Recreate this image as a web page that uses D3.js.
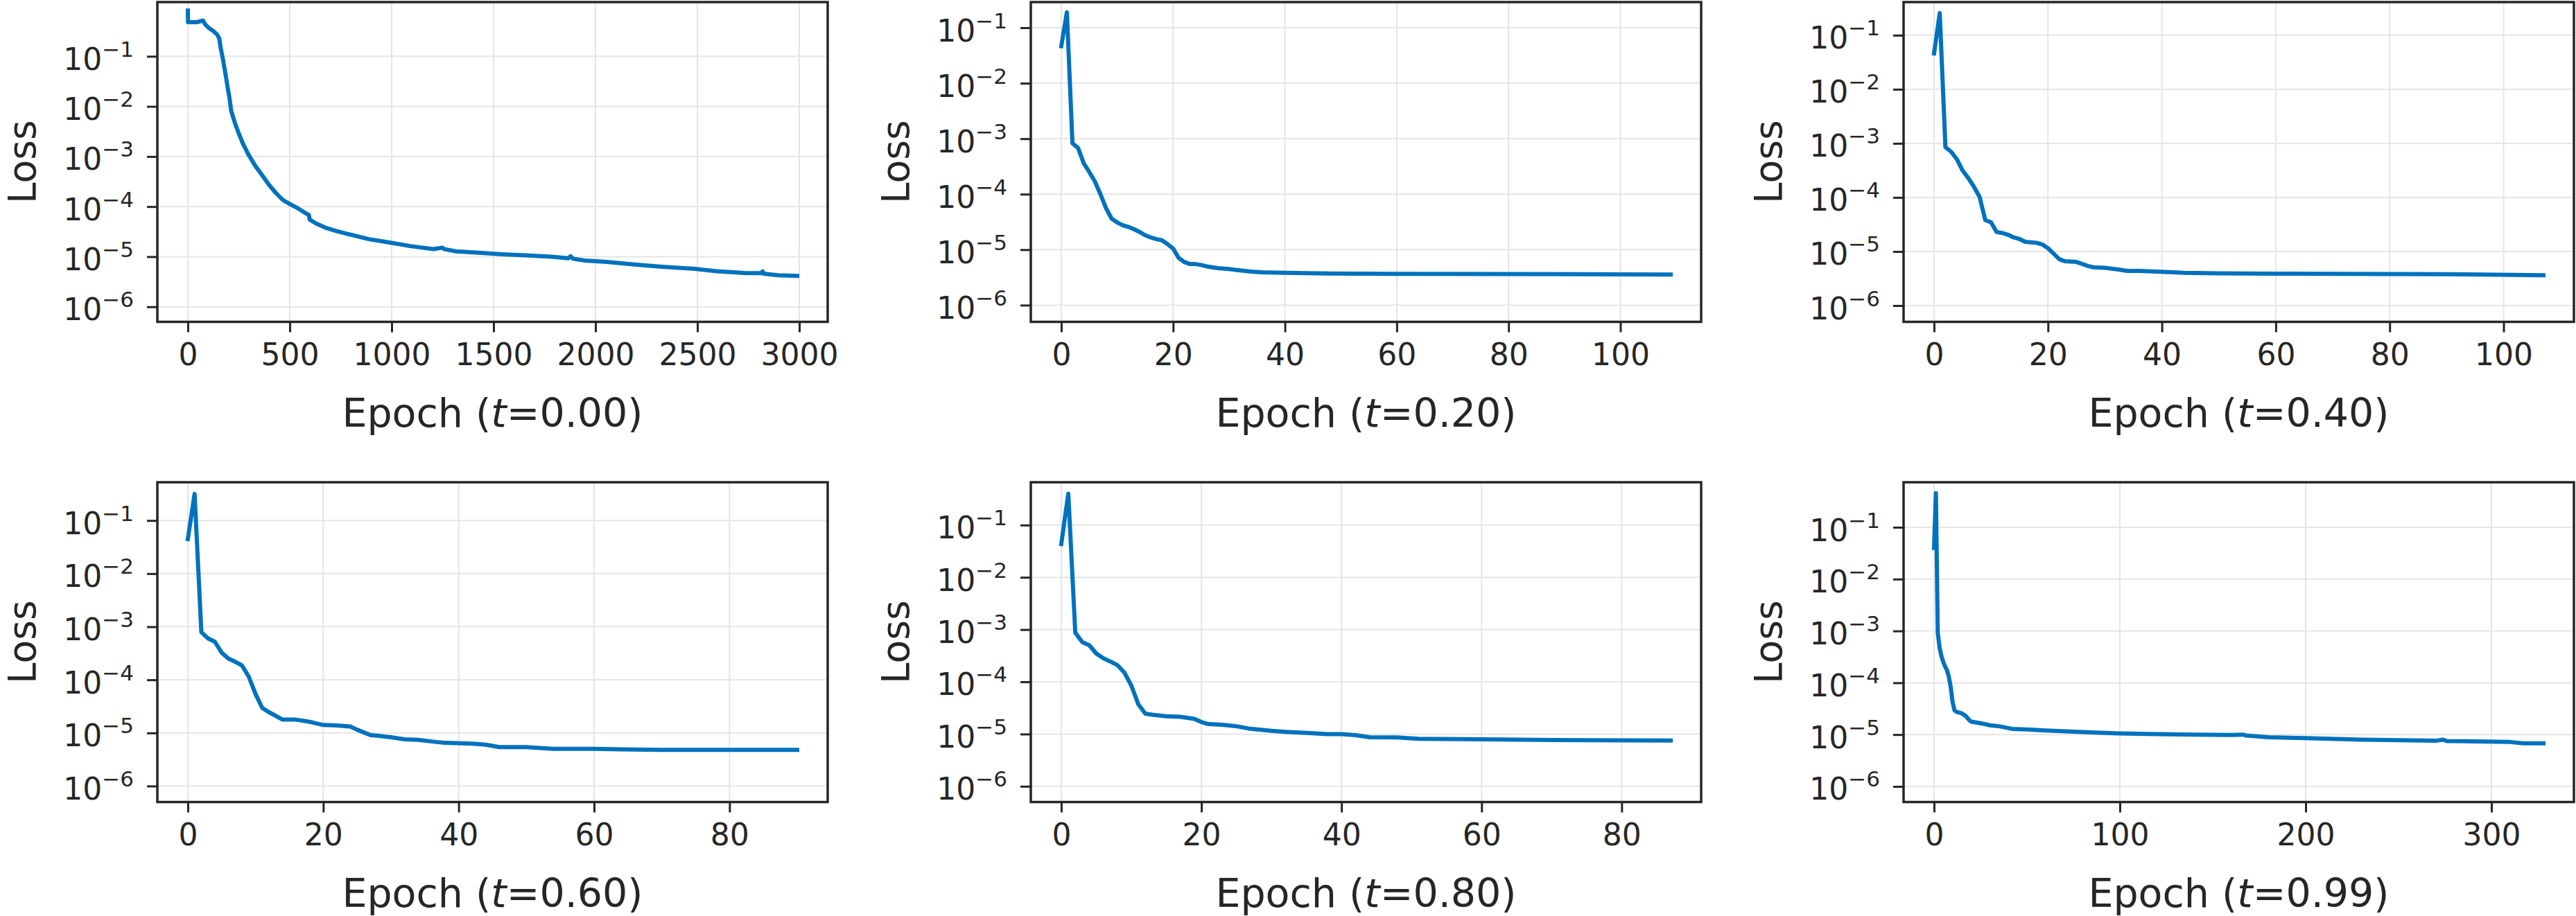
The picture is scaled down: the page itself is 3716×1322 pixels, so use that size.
<!DOCTYPE html>
<html>
<head>
<meta charset="utf-8">
<script src="https://cdn.jsdelivr.net/npm/d3@7/dist/d3.min.js"></script>
<style>
  body { margin: 0; background: #fff; }
  svg text { font-family: "DejaVu Sans", sans-serif; fill: #262626; }
</style>
</head>
<body>
<svg id="chart" width="3716" height="1322"></svg>
<script>
// values, one pair of arrays per panel
const tLabels = ["0.00", "0.20", "0.40", "0.60", "0.80", "0.99"];

const epochsT000 = [0, 1, 44, 61, 74, 86, 102, 123, 143, 154, 162, 173, 185, 196, 204, 213, 230, 247, 269, 297, 331, 365, 399, 432, 466, 500, 539, 573, 594, 598, 629, 675, 731, 787, 843, 888, 979, 1091, 1204, 1249, 1260, 1316, 1429, 1541, 1786, 1867, 1878, 1890, 1948, 2056, 2191, 2327, 2489, 2597, 2733, 2814, 2820, 2826, 2895, 2990];
const lossT000 = [0.82, 0.48, 0.48, 0.50, 0.52, 0.43, 0.37, 0.325, 0.274, 0.229, 0.142, 8.4e-2, 4.4e-2, 2.3e-2, 1.5e-2, 8.1e-3, 4.8e-3, 3.1e-3, 1.86e-3, 1.1e-3, 6.5e-4, 4.2e-4, 2.7e-4, 1.87e-4, 1.36e-4, 1.13e-4, 9.3e-5, 7.6e-5, 6.8e-5, 5.5e-5, 4.6e-5, 3.8e-5, 3.24e-5, 2.83e-5, 2.49e-5, 2.24e-5, 1.95e-5, 1.63e-5, 1.42e-5, 1.51e-5, 1.41e-5, 1.28e-5, 1.2e-5, 1.12e-5, 1.0e-5, 9.3e-6, 1.02e-5, 9.1e-6, 8.4e-6, 7.85e-6, 6.97e-6, 6.3e-6, 5.7e-6, 5.1e-6, 4.72e-6, 4.68e-6, 5.1e-6, 4.57e-6, 4.25e-6, 4.13e-6];

const epochsT020 = [0, 1, 2, 3, 4, 5, 6, 7, 8, 9, 10, 11, 12, 13, 14, 15, 16, 17, 18, 19, 20, 21, 22, 23, 24, 25, 26, 28, 30, 32, 34, 36, 40, 48, 60, 80, 100, 109];
const lossT020 = [0.0465, 0.19, 8.26e-4, 6.8e-4, 3.63e-4, 2.51e-4, 1.7e-4, 1.0e-4, 5.6e-5, 3.63e-5, 3.09e-5, 2.75e-5, 2.57e-5, 2.34e-5, 2.09e-5, 1.82e-5, 1.66e-5, 1.55e-5, 1.48e-5, 1.26e-5, 1.05e-5, 7.1e-6, 6.0e-6, 5.5e-6, 5.5e-6, 5.3e-6, 5.0e-6, 4.65e-6, 4.47e-6, 4.22e-6, 4.02e-6, 3.9e-6, 3.83e-6, 3.72e-6, 3.67e-6, 3.63e-6, 3.59e-6, 3.56e-6];

const epochsT040 = [0, 1, 2, 3, 4, 5, 6, 7, 8, 9, 10, 11, 12, 13, 14, 15, 16, 17, 18, 19, 20, 21, 22, 23, 25, 26, 27, 28, 30, 32, 34, 36, 40, 44, 50, 60, 80, 90, 107];
const lossT040 = [0.046, 0.257, 8.5e-4, 7.0e-4, 5.1e-4, 3.16e-4, 2.29e-4, 1.58e-4, 1.02e-4, 3.8e-5, 3.47e-5, 2.29e-5, 2.2e-5, 2.04e-5, 1.82e-5, 1.7e-5, 1.51e-5, 1.48e-5, 1.45e-5, 1.35e-5, 1.15e-5, 9.1e-6, 7.2e-6, 6.6e-6, 6.4e-6, 5.9e-6, 5.4e-6, 5.1e-6, 5.0e-6, 4.7e-6, 4.37e-6, 4.37e-6, 4.22e-6, 4.03e-6, 3.93e-6, 3.89e-6, 3.83e-6, 3.8e-6, 3.63e-6];

const epochsT060 = [0, 1, 2, 3, 4, 5, 6, 7, 8, 9, 10, 11, 12, 13, 14, 16, 18, 19, 20, 22, 24, 25, 26, 27, 28, 30, 32, 34, 36, 38, 42, 44, 46, 50, 54, 60, 64, 70, 80, 90];
const lossT060 = [0.0447, 0.316, 7.9e-4, 6.0e-4, 5.2e-4, 3.24e-4, 2.51e-4, 2.19e-4, 1.86e-4, 1.15e-4, 5.4e-5, 2.95e-5, 2.45e-5, 2.09e-5, 1.78e-5, 1.78e-5, 1.62e-5, 1.51e-5, 1.41e-5, 1.38e-5, 1.32e-5, 1.15e-5, 1.02e-5, 9.1e-6, 8.9e-6, 8.3e-6, 7.6e-6, 7.4e-6, 6.9e-6, 6.5e-6, 6.3e-6, 6.0e-6, 5.4e-6, 5.4e-6, 5.0e-6, 5.0e-6, 4.9e-6, 4.8e-6, 4.8e-6, 4.8e-6];

const epochsT080 = [0, 1, 2, 3, 4, 5, 6, 7, 8, 9, 10, 11, 12, 13, 15, 17, 19, 20, 21, 23, 25, 27, 30, 32, 35, 38, 40, 42, 44, 48, 51, 60, 70, 80, 87];
const lossT080 = [0.0433, 0.40, 8.7e-4, 5.75e-4, 5.0e-4, 3.47e-4, 2.82e-4, 2.45e-4, 2.09e-4, 1.51e-4, 8.5e-5, 3.7e-5, 2.45e-5, 2.34e-5, 2.19e-5, 2.14e-5, 1.95e-5, 1.7e-5, 1.55e-5, 1.51e-5, 1.41e-5, 1.26e-5, 1.15e-5, 1.1e-5, 1.05e-5, 1.0e-5, 1.0e-5, 9.5e-6, 8.7e-6, 8.6e-6, 8.1e-6, 7.9e-6, 7.7e-6, 7.6e-6, 7.5e-6];

const epochsT099 = [0, 1, 2, 3, 4, 5, 6, 7, 8, 9, 10, 11, 12, 15, 17, 19, 20, 25, 28, 30, 35, 42, 50, 60, 80, 100, 120, 140, 160, 166, 168, 180, 200, 230, 250, 270, 274, 276, 290, 310, 317, 328];
const lossT099 = [0.04, 0.457, 9.1e-4, 4.7e-4, 3.24e-4, 2.51e-4, 2.04e-4, 1.74e-4, 1.29e-4, 8.1e-5, 4.2e-5, 2.95e-5, 2.75e-5, 2.57e-5, 2.29e-5, 1.9e-5, 1.78e-5, 1.66e-5, 1.58e-5, 1.51e-5, 1.45e-5, 1.29e-5, 1.26e-5, 1.2e-5, 1.12e-5, 1.05e-5, 1.02e-5, 1.0e-5, 9.8e-6, 1.0e-5, 9.6e-6, 8.9e-6, 8.55e-6, 8.0e-6, 7.8e-6, 7.6e-6, 8.0e-6, 7.5e-6, 7.4e-6, 7.2e-6, 6.8e-6, 6.8e-6];

const xTickValues = [
  [0, 500, 1000, 1500, 2000, 2500, 3000],
  [0, 20, 40, 60, 80, 100],
  [0, 20, 40, 60, 80, 100],
  [0, 20, 40, 60, 80],
  [0, 20, 40, 60, 80],
  [0, 100, 200, 300]
];
const yTickValues = [1e-1, 1e-2, 1e-3, 1e-4, 1e-5, 1e-6];
const yLow = 5e-7;
const yHigh = [1.21, 0.29, 0.41, 0.525, 0.66, 0.74];

const panels = [
  {epochs: epochsT000, loss: lossT000},
  {epochs: epochsT020, loss: lossT020},
  {epochs: epochsT040, loss: lossT040},
  {epochs: epochsT060, loss: lossT060},
  {epochs: epochsT080, loss: lossT080},
  {epochs: epochsT099, loss: lossT099}
];

let svg = d3.select("#chart");
let colLeft = [227, 1487, 2746];
let rowTop = [3, 696];
let W = 967, H = 461.5;
let ink = "#262626";
let blue = "#0072bd";

panels.forEach((p, i) => {
    let g = svg.append("g")
        .attr("transform", `translate(${colLeft[i % 3]},${rowTop[Math.floor(i / 3)]})`);

    let n = d3.max(p.epochs);
    let x = d3.scaleLinear().domain([-0.05 * n, 1.05 * n]).range([0, W]);
    let y = d3.scaleLog().domain([yLow, yHigh[i]]).range([H, 0]);

    // grid
    g.append("g").selectAll("line")
        .data(xTickValues[i])
        .enter().append("line")
        .attr("x1", d => x(d)).attr("x2", d => x(d))
        .attr("y1", 0).attr("y2", H)
        .attr("stroke", "#e5e5e5").attr("stroke-width", 2);
    g.append("g").selectAll("line")
        .data(yTickValues)
        .enter().append("line")
        .attr("x1", 0).attr("x2", W)
        .attr("y1", d => y(d)).attr("y2", d => y(d))
        .attr("stroke", "#e5e5e5").attr("stroke-width", 2);

    let pts = p.epochs.map((e, k) => [e, p.loss[k]]);
    g.append("path")
        .datum(pts)
        .attr("fill", "none")
        .attr("stroke", blue)
        .attr("stroke-width", 6)
        .attr("stroke-linejoin", "round")
        .attr("stroke-linecap", "square")
        .attr("d", d3.line().x(d => x(d[0])).y(d => y(d[1])));

    // axes
    let xAxis = g.append("g")
        .attr("transform", `translate(0,${H})`)
        .call(d3.axisBottom(x).tickValues(xTickValues[i]).tickSize(15).tickPadding(16).tickFormat(d3.format("d")));
    let yAxis = g.append("g")
        .call(d3.axisLeft(y).tickValues(yTickValues).tickSize(15).tickPadding(19));

    [xAxis, yAxis].forEach(a => {
        a.attr("font-size", 44).attr("font-family", "DejaVu Sans");
        a.select(".domain").remove();
        a.selectAll(".tick line").attr("stroke", ink).attr("stroke-width", 3);
        a.selectAll(".tick text").attr("fill", ink);
    });

    yAxis.selectAll(".tick text")
        .attr("dy", 19)
        .text("")
        .each(function(d) {
            let t = d3.select(this);
            t.append("tspan").text("10");
            t.append("tspan")
                .attr("dy", -19)
                .attr("font-size", 31)
                .text("\u2212" + Math.round(-Math.log10(d)));
        });

    g.append("rect")
        .attr("width", W).attr("height", H)
        .attr("fill", "none")
        .attr("stroke", ink)
        .attr("stroke-width", 3.5);

    let xl = g.append("text")
        .attr("x", W / 2).attr("y", H + 151)
        .attr("text-anchor", "middle")
        .attr("font-size", 57);
    xl.append("tspan").text("Epoch (");
    xl.append("tspan").attr("font-style", "italic").text("t");
    xl.append("tspan").text("=" + tLabels[i] + ")");

    g.append("text")
        .attr("transform", `translate(-176,${H / 2}) rotate(-90)`)
        .attr("text-anchor", "middle")
        .attr("font-size", 55)
        .text("Loss");
});
</script>
</body>
</html>
